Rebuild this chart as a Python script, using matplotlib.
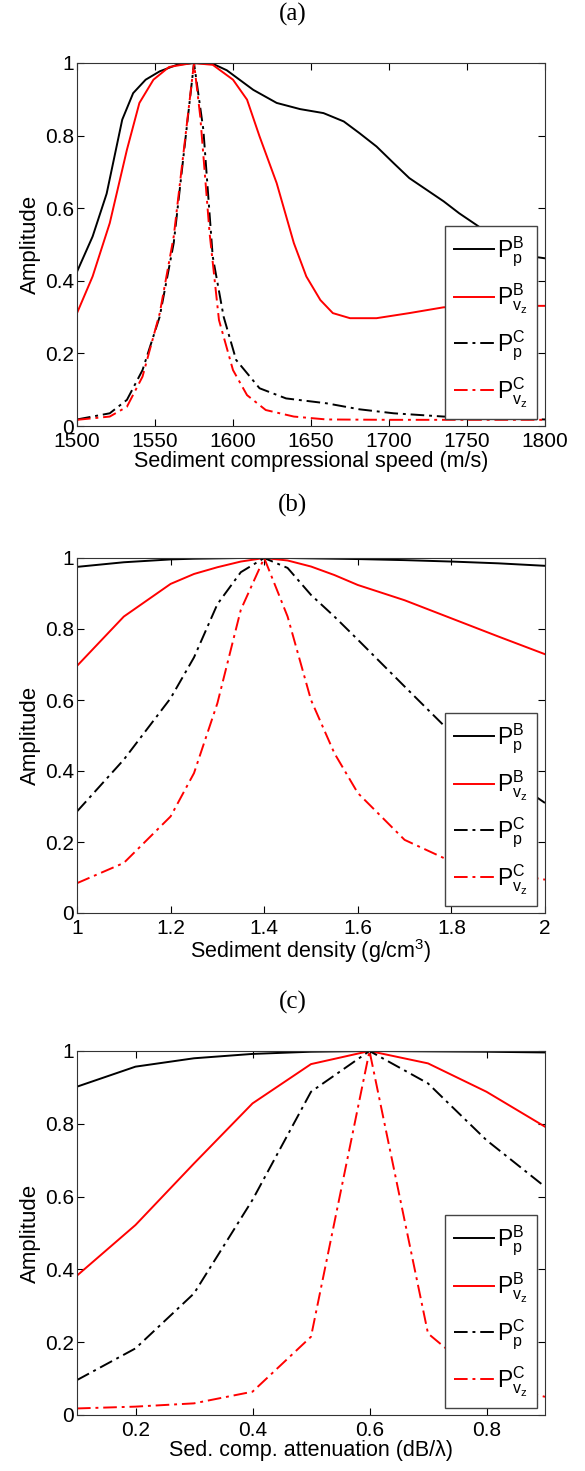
import matplotlib.pyplot as plt
from matplotlib.ticker import FuncFormatter

plt.rcParams['font.family'] = ['Liberation Sans', 'DejaVu Sans']
plt.rcParams['mathtext.fontset'] = 'custom'
plt.rcParams['mathtext.rm'] = 'Liberation Sans'
plt.rcParams['mathtext.it'] = 'Liberation Sans'

# (a) sediment compressional speed
speed_pB = [1500, 1510, 1519, 1529, 1536, 1544, 1553, 1564, 1575, 1587, 1596, 1613, 1628, 1643,
            1658, 1671, 1681, 1692, 1703, 1713, 1724, 1735, 1745, 1756, 1765, 1780, 1795, 1800]
amp_pB_a = [0.425, 0.522, 0.64, 0.844, 0.917, 0.954, 0.977, 0.995, 1.0, 0.998, 0.98, 0.926, 0.89, 0.873,
            0.862, 0.839, 0.807, 0.77, 0.724, 0.683, 0.651, 0.619, 0.586, 0.554, 0.527, 0.49, 0.465, 0.462]
speed_vB = [1500, 1510, 1521, 1532, 1540, 1549, 1559, 1574, 1587, 1600, 1609, 1617, 1628, 1639,
            1647, 1656, 1664, 1675, 1692, 1713, 1735, 1760, 1800]
amp_vB_a = [0.311, 0.412, 0.559, 0.761, 0.89, 0.954, 0.989, 1.0, 0.995, 0.954, 0.899, 0.798, 0.669, 0.504,
            0.412, 0.347, 0.311, 0.297, 0.297, 0.311, 0.327, 0.331, 0.331]
speed_pC = [1500, 1521, 1532, 1542, 1553, 1562, 1568, 1575, 1581, 1587, 1594, 1602, 1617, 1634,
            1660, 1681, 1703, 1735, 1770, 1800]
amp_pC_a = [0.018, 0.035, 0.072, 0.154, 0.301, 0.504, 0.733, 1.0, 0.816, 0.467, 0.301, 0.182, 0.104, 0.076,
            0.0625, 0.046, 0.035, 0.026, 0.021, 0.018]
speed_vC = [1500, 1521, 1532, 1542, 1553, 1562, 1568, 1575, 1579, 1585, 1591, 1600, 1609, 1621,
            1639, 1660, 1700, 1800]
amp_vC_a = [0.017, 0.026, 0.053, 0.136, 0.31, 0.522, 0.743, 1.0, 0.853, 0.531, 0.292, 0.154, 0.085, 0.044,
            0.026, 0.018, 0.017, 0.017]

# (b) sediment density
density = [1.0, 1.1, 1.2, 1.25, 1.3, 1.35, 1.4, 1.45, 1.5, 1.55, 1.6, 1.7, 1.8, 1.9, 2.0]
amp_pB_b = [0.975, 0.988, 0.996, 0.998, 0.999, 1.0, 1.0, 1.0, 0.999, 0.998, 0.997, 0.994, 0.99, 0.985, 0.978]
amp_vB_b = [0.696, 0.835, 0.927, 0.955, 0.974, 0.99, 1.0, 0.993, 0.976, 0.952, 0.924, 0.881, 0.83, 0.779, 0.729]
amp_pC_b = [0.286, 0.432, 0.605, 0.72, 0.87, 0.96, 1.0, 0.972, 0.896, 0.835, 0.77, 0.638, 0.507, 0.40, 0.31]
amp_vC_b = [0.084, 0.141, 0.272, 0.394, 0.591, 0.854, 1.0, 0.835, 0.6, 0.45, 0.338, 0.206, 0.145, 0.115, 0.094]

# (c) sediment compressional attenuation
atten = [0.1, 0.2, 0.3, 0.4, 0.5, 0.6, 0.7, 0.8, 0.9]
amp_pB_c = [0.902, 0.957, 0.98, 0.992, 0.998, 1.0, 0.999, 0.998, 0.996]
amp_vB_c = [0.383, 0.522, 0.691, 0.856, 0.964, 1.0, 0.966, 0.888, 0.792]
amp_pC_c = [0.096, 0.183, 0.334, 0.591, 0.888, 1.0, 0.911, 0.755, 0.627]
amp_vC_c = [0.018, 0.023, 0.032, 0.064, 0.215, 1.0, 0.224, 0.09, 0.05]

labels = [r'$\mathrm{P}_{\mathrm{p}}^{\mathrm{B}}$', r'$\mathrm{P}_{\mathrm{v_z}}^{\mathrm{B}}$',
          r'$\mathrm{P}_{\mathrm{p}}^{\mathrm{C}}$', r'$\mathrm{P}_{\mathrm{v_z}}^{\mathrm{C}}$']

dashdot = (0, (7, 2.5, 1.5, 2.5))


def fmt(v, pos):
    s = '%g' % round(v, 3)
    return s


fig = plt.figure(figsize=(5.85, 14.71), dpi=100)
W = 585.0
H = 1471.0
boxes = [(63, 426), (558, 913), (1051, 1415)]
titles = ['(a)', '(b)', '(c)']
title_y = [14, 505, 1002]

panels = [
    (speed_pB, amp_pB_a, speed_vB, amp_vB_a, speed_pC, amp_pC_a, speed_vC, amp_vC_a,
     (1500, 1800), [1500, 1550, 1600, 1650, 1700, 1750, 1800], 'Sediment compressional speed (m/s)'),
    (density, amp_pB_b, density, amp_vB_b, density, amp_pC_b, density, amp_vC_b,
     (1, 2), [1, 1.2, 1.4, 1.6, 1.8, 2], r'Sediment density (g/cm$^3$)'),
    (atten, amp_pB_c, atten, amp_vB_c, atten, amp_pC_c, atten, amp_vC_c,
     (0.1, 0.9), [0.2, 0.4, 0.6, 0.8], 'Sed. comp. attenuation (dB/\u03bb)'),
]

for i, p in enumerate(panels):
    top, bot = boxes[i]
    ax = fig.add_axes([77 / W, 1 - bot / H, 468 / W, (bot - top) / H])
    x1, y1, x2, y2, x3, y3, x4, y4, xl, xt, xlab = p
    ax.plot(x1, y1, color='black', lw=1.4, label=labels[0])
    ax.plot(x2, y2, color='red', lw=1.4, label=labels[1])
    ax.plot(x3, y3, color='black', lw=1.4, ls=dashdot, label=labels[2])
    ax.plot(x4, y4, color='red', lw=1.4, ls=dashdot, label=labels[3])
    ax.set_xlim(xl)
    ax.set_ylim(0, 1)
    ax.set_xticks(xt)
    ax.set_yticks([0, 0.2, 0.4, 0.6, 0.8, 1])
    ax.xaxis.set_major_formatter(FuncFormatter(fmt))
    ax.yaxis.set_major_formatter(FuncFormatter(fmt))
    ax.tick_params(direction='in', top=True, right=True, labelsize=15, length=5, width=0.8, pad=2)
    ax.tick_params(axis='x', pad=4)
    for s in ax.spines.values():
        s.set_linewidth(0.8)
        s.set_color('#333333')
    ax.set_xlabel(xlab, fontsize=15.5, labelpad=0)
    ax.set_ylabel('Amplitude', fontsize=16, labelpad=3)
    leg = ax.legend(loc='lower right', bbox_to_anchor=(1 - 8 / 468, 7 / (bot - top)), borderaxespad=0,
                    fontsize=16.5, handlelength=1.75, handletextpad=0.12, labelspacing=0.55,
                    fancybox=False, framealpha=1, edgecolor='#444444', borderpad=0.4)
    leg.get_frame().set_linewidth(1.0)
    fig.text(0.5, 1 - title_y[i] / H, titles[i], ha='center', va='center', fontsize=18,
             family='Liberation Serif')

fig.savefig('out.png', dpi=100)
